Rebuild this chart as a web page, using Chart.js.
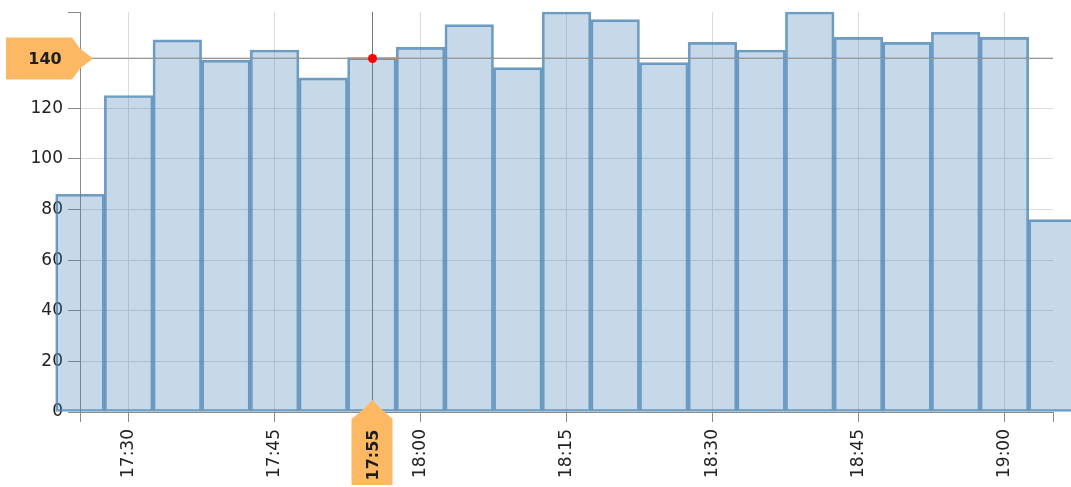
<!DOCTYPE html>
<html>
<head>
<meta charset="utf-8">
<script src="https://cdn.jsdelivr.net/npm/chart.js@4.4.1/dist/chart.umd.min.js"></script>
<style>
  html, body { margin: 0; padding: 0; background: #fff; }
  #wrap { position: relative; width: 1071px; height: 487px; }
</style>
</head>
<body>
<div id="wrap"><canvas id="chart"></canvas></div>
<script>
// 5-minute buckets
const times = ['17:25', '17:30', '17:35', '17:40', '17:45', '17:50', '17:55', '18:00', '18:05', '18:10', '18:15',
  '18:20', '18:25', '18:30', '18:35', '18:40', '18:45', '18:50', '18:55', '19:00', '19:05'];
const values = [86, 125, 147, 139, 143, 132, 140, 144, 153, 136, 158, 155, 138, 146, 143, 158, 148, 146, 150, 148, 76];

// labelled ticks on the time axis, and value ticks
const xTickLabels = ['17:30', '17:45', '18:00', '18:15', '18:30', '18:45', '19:00'];
const yTickValues = [0, 20, 40, 60, 80, 100, 120, 140];

// hovered point (crosshair)
const hoverTime = '17:55';
const hoverValue = 140;

const toMinutes = (t) => {
  const [h, m] = t.split(':').map(Number);
  return h * 60 + m;
};
const fmtTime = (v) => {
  const h = Math.floor(v / 60);
  const m = v % 60;
  return h + ':' + String(m).padStart(2, '0');
};

const xMin = toMinutes(times[0]);
const xMax = toMinutes(times[times.length - 1]);
const yMax = Math.max(...values);
const labelledX = xTickLabels.map(toMinutes);

const FONT = "'DejaVu Sans', Verdana, sans-serif";
const GRID = '#dcdcdc';
const AXIS = '#8a8a8a';

// crosshair lines, red dot and the two orange callouts
const crosshairPlugin = {
  id: 'crosshair',
  afterDraw(chart) {
    const { ctx, chartArea, scales } = chart;
    const px = Math.round(scales.x.getPixelForValue(toMinutes(hoverTime))) + 0.5;
    const py = Math.round(scales.y.getPixelForValue(hoverValue)) + 0.5;
    const left = chartArea.left;
    const bottom = chartArea.bottom;

    ctx.save();
    ctx.lineWidth = 1;
    ctx.strokeStyle = '#999';
    ctx.beginPath();
    ctx.moveTo(left, py);
    ctx.lineTo(chartArea.right, py);
    ctx.stroke();
    ctx.strokeStyle = '#7a7a7a';
    ctx.beginPath();
    ctx.moveTo(px, chartArea.top);
    ctx.lineTo(px, bottom);
    ctx.stroke();

    ctx.fillStyle = '#ff0000';
    ctx.beginPath();
    ctx.arc(px, py, 4.5, 0, Math.PI * 2);
    ctx.fill();

    ctx.fillStyle = '#fdb863';
    // left (value) callout
    ctx.beginPath();
    ctx.moveTo(left - 74, py - 21);
    ctx.lineTo(left - 8, py - 21);
    ctx.lineTo(left, py - 10);
    ctx.lineTo(left + 13, py);
    ctx.lineTo(left, py + 10);
    ctx.lineTo(left - 8, py + 21);
    ctx.lineTo(left - 74, py + 21);
    ctx.closePath();
    ctx.fill();
    // bottom (time) callout
    ctx.beginPath();
    ctx.moveTo(px, bottom - 12);
    ctx.lineTo(px + 10, bottom - 2);
    ctx.lineTo(px + 20, bottom + 7);
    ctx.lineTo(px + 20, bottom + 73);
    ctx.lineTo(px - 21, bottom + 73);
    ctx.lineTo(px - 21, bottom + 7);
    ctx.lineTo(px - 10, bottom - 2);
    ctx.closePath();
    ctx.fill();

    ctx.fillStyle = '#1e1e1e';
    ctx.font = 'bold 16px ' + FONT;
    ctx.textAlign = 'center';
    ctx.textBaseline = 'middle';
    ctx.fillText(String(hoverValue), left - 35, py + 1);
    ctx.translate(px + 1, bottom + 43);
    ctx.rotate(-Math.PI / 2);
    ctx.fillText(hoverTime, 0, 0);
    ctx.restore();
  }
};

const ctx = document.getElementById('chart').getContext('2d');
new Chart(ctx, {
  type: 'bar',
  data: {
    datasets: [
      {
        data: values.map((v, i) => ({ x: toMinutes(times[i]), y: v })),
        backgroundColor: 'rgba(70, 130, 180, 0.3)',
        borderColor: 'rgba(70, 130, 180, 0.78)',
        borderWidth: 2,
        borderSkipped: false,
        barPercentage: 1,
        categoryPercentage: 1,
        clip: false,
      },
    ],
  },
  options: {
    responsive: true,
    maintainAspectRatio: false,
    animation: false,
    events: [],
    layout: { padding: { top: 12, right: 18, left: 0, bottom: 0 } },
    plugins: {
      legend: { display: false },
      tooltip: { enabled: false },
    },
    scales: {
      x: {
        type: 'linear',
        min: xMin,
        max: xMax,
        offset: false,
        afterBuildTicks: (scale) => {
          scale.ticks = [xMin, ...labelledX, xMax].map((v) => ({ value: v }));
        },
        afterFit: (scale) => {
          scale.height = 75;
          scale.paddingLeft = 0;
          scale.paddingRight = 0;
        },
        border: { color: AXIS, width: 1 },
        grid: {
          offset: false,
          color: (c) => (c.tick && labelledX.includes(c.tick.value) ? GRID : 'transparent'),
          tickColor: AXIS,
          tickLength: 10,
        },
        ticks: {
          autoSkip: false,
          maxRotation: 90,
          minRotation: 90,
          padding: 7,
          color: '#222',
          font: { family: FONT, size: 17 },
          callback: (v) => (labelledX.includes(v) ? fmtTime(v) : ''),
        },
      },
      y: {
        min: 0,
        max: yMax,
        afterBuildTicks: (scale) => {
          scale.ticks = [...yTickValues, yMax].map((v) => ({ value: v }));
        },
        afterFit: (scale) => {
          scale.width = 80;
          scale.paddingTop = 0;
          scale.paddingBottom = 0;
        },
        border: { color: AXIS, width: 1 },
        grid: {
          color: (c) => (c.tick && yTickValues.includes(c.tick.value) ? GRID : 'transparent'),
          tickColor: AXIS,
          tickLength: 12,
        },
        ticks: {
          padding: 5,
          color: '#222',
          font: { family: FONT, size: 17 },
          callback: (v) => (yTickValues.includes(v) ? v : ''),
        },
      },
    },
  },
  plugins: [crosshairPlugin],
});
</script>
</body>
</html>
